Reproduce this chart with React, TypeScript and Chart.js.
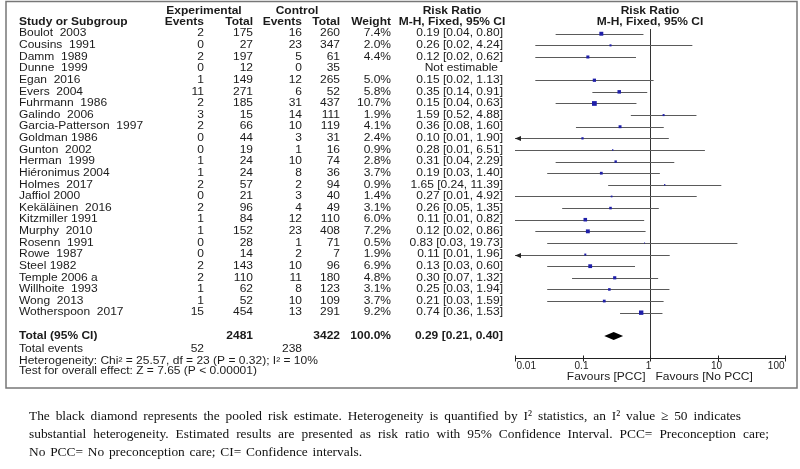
import React, { useEffect, useRef } from "react";
import { Chart, registerables } from "chart.js";
Chart.register(...registerables);

const studies = ["Boulot  2003", "Cousins  1991", "Damm  1989", "Dunne  1999", "Egan  2016", "Evers  2004", "Fuhrmann  1986", "Galindo  2006", "Garcia-Patterson  1997", "Goldman 1986", "Gunton  2002", "Herman  1999", "Hiéronimus 2004", "Holmes  2017", "Jaffiol 2000", "Kekäläinen  2016", "Kitzmiller 1991", "Murphy  2010", "Rosenn  1991", "Rowe  1987", "Steel 1982", "Temple 2006 a", "Willhoite  1993", "Wong  2013", "Wotherspoon  2017"];
const expEvents = [2, 0, 2, 0, 1, 11, 2, 3, 2, 0, 0, 1, 1, 2, 0, 2, 1, 1, 0, 0, 2, 2, 1, 1, 15];
const expTotal = [175, 27, 197, 12, 149, 271, 185, 15, 66, 44, 19, 24, 24, 57, 21, 96, 84, 152, 28, 14, 143, 110, 62, 52, 454];
const ctlEvents = [16, 23, 5, 0, 12, 6, 31, 14, 10, 3, 1, 10, 8, 2, 3, 4, 12, 23, 1, 2, 10, 11, 8, 10, 13];
const ctlTotal = [260, 347, 61, 35, 265, 52, 437, 111, 119, 31, 16, 74, 36, 94, 40, 49, 110, 408, 71, 7, 96, 180, 123, 109, 291];
const weights: (number | null)[] = [7.4, 2.0, 4.4, null, 5.0, 5.8, 10.7, 1.9, 4.1, 2.4, 0.9, 2.8, 3.7, 0.9, 1.4, 3.1, 6.0, 7.2, 0.5, 1.9, 6.9, 4.8, 3.1, 3.7, 9.2];
const riskRatio: (number | null)[] = [0.19, 0.26, 0.12, null, 0.15, 0.35, 0.15, 1.59, 0.36, 0.10, 0.28, 0.31, 0.19, 1.65, 0.27, 0.26, 0.11, 0.12, 0.83, 0.11, 0.13, 0.30, 0.25, 0.21, 0.74];
const ciLow: (number | null)[] = [0.04, 0.02, 0.02, null, 0.02, 0.14, 0.04, 0.52, 0.08, 0.01, 0.01, 0.04, 0.03, 0.24, 0.01, 0.05, 0.01, 0.02, 0.03, 0.01, 0.03, 0.07, 0.03, 0.03, 0.36];
const ciHigh: (number | null)[] = [0.80, 4.24, 0.62, null, 1.13, 0.91, 0.63, 4.88, 1.60, 1.90, 6.51, 2.29, 1.40, 11.39, 4.92, 1.35, 0.82, 0.86, 19.73, 1.96, 0.60, 1.32, 1.94, 1.59, 1.53];
const clippedLow = [false, false, false, false, false, false, false, false, false, true, false, false, false, false, false, false, false, false, false, true, false, false, false, false, false];

const pooled = { rr: 0.29, lo: 0.21, hi: 0.40 };
const totals = { expTotal: 2481, ctlTotal: 3422, expEvents: 52, ctlEvents: 238, weight: "100.0%" };
const heterogeneityText = "Heterogeneity: Chi² = 25.57, df = 23 (P = 0.32); I² = 10%";
const overallText = "Test for overall effect: Z = 7.65 (P < 0.00001)";
const axisTicks = [0.01, 0.1, 1, 10, 100];
const axisLabels = ["0.01", "0.1", "1", "10", "100"];
const favoursLeft = "Favours [PCC]";
const favoursRight = "Favours [No PCC]";
const footnote = [
  "The black diamond represents the pooled risk estimate.  Heterogeneity is quantified by I² statistics, an I² value ≥ 50 indicates",
  "substantial heterogeneity. Estimated results are presented as risk ratio with 95% Confidence Interval. PCC= Preconception care;",
  "No PCC= No preconception care; CI= Confidence intervals.",
];

const SANS = '"Liberation Sans", Arial, Helvetica, sans-serif';
const SERIF = '"Liberation Serif", "Times New Roman", serif';
const TEXT = "#1b1b1b";

function txt(ctx: CanvasRenderingContext2D, s: string, x: number, y: number, align: CanvasTextAlign, bold = false, size = 10, sx = 1.2) {
  ctx.save();
  ctx.translate(x, y);
  ctx.scale(sx, 1);
  ctx.font = `${bold ? "bold " : ""}${size}px ${SANS}`;
  ctx.textAlign = align;
  ctx.textBaseline = "middle";
  ctx.fillStyle = TEXT;
  ctx.fillText(s, 0, 0);
  ctx.restore();
}

function justified(ctx: CanvasRenderingContext2D, s: string, x0: number, x1: number, y: number) {
  ctx.save();
  ctx.font = `13.4px ${SERIF}`;
  ctx.textBaseline = "middle";
  ctx.textAlign = "left";
  ctx.fillStyle = "#111";
  const words = s.split(/\s+/);
  const widths = words.map((w) => ctx.measureText(w).width);
  const total = widths.reduce((a, b) => a + b, 0);
  const gap = words.length > 1 ? (x1 - x0 - total) / (words.length - 1) : 0;
  let x = x0;
  words.forEach((w, i) => {
    ctx.fillText(w, x, y);
    x += widths[i] + gap;
  });
  ctx.restore();
}

const forestPlugin = {
  id: "forest",
  beforeDatasetsDraw(chart: any) {
    const ctx: CanvasRenderingContext2D = chart.ctx;
    const xs = chart.scales.x;
    const ys = chart.scales.y;
    ctx.save();
    const x1 = Math.round(xs.getPixelForValue(1)) + 0.5;
    ctx.strokeStyle = "#333";
    ctx.lineWidth = 1;
    ctx.beginPath();
    ctx.moveTo(x1, 29);
    ctx.lineTo(x1, ys.getPixelForValue(27.9));
    ctx.stroke();
    ctx.strokeStyle = "#5a5a5a";
    riskRatio.forEach((r, i) => {
      if (r == null) return;
      const y = Math.round(ys.getPixelForValue(i)) + 0.5;
      const xa = xs.getPixelForValue(Math.max(ciLow[i] as number, 0.01));
      const xb = xs.getPixelForValue(Math.min(ciHigh[i] as number, 100));
      ctx.beginPath();
      ctx.moveTo(xa, y);
      ctx.lineTo(xb, y);
      ctx.stroke();
      if (clippedLow[i]) {
        ctx.fillStyle = "#222";
        ctx.beginPath();
        ctx.moveTo(xa, y);
        ctx.lineTo(xa + 6, y - 2.5);
        ctx.lineTo(xa + 6, y + 2.5);
        ctx.closePath();
        ctx.fill();
      }
    });
    const yd = ys.getPixelForValue(26);
    ctx.fillStyle = "#000";
    ctx.beginPath();
    ctx.moveTo(xs.getPixelForValue(pooled.lo), yd);
    ctx.lineTo(xs.getPixelForValue(pooled.rr), yd - 4);
    ctx.lineTo(xs.getPixelForValue(pooled.hi), yd);
    ctx.lineTo(xs.getPixelForValue(pooled.rr), yd + 4);
    ctx.closePath();
    ctx.fill();
    const ya = Math.round(ys.getPixelForValue(27.9)) + 0.5;
    ctx.strokeStyle = "#222";
    ctx.beginPath();
    ctx.moveTo(xs.getPixelForValue(axisTicks[0]), ya);
    ctx.lineTo(xs.getPixelForValue(axisTicks[axisTicks.length - 1]), ya);
    ctx.stroke();
    axisTicks.forEach((t, i) => {
      const xt = Math.round(xs.getPixelForValue(t)) + 0.5;
      ctx.beginPath();
      ctx.moveTo(xt, ya - 3);
      ctx.lineTo(xt, ya + 3);
      ctx.stroke();
      const align: CanvasTextAlign = i === 0 ? "left" : i === axisTicks.length - 1 ? "right" : "center";
      const xl = i === 0 ? xt + 1 : i === axisTicks.length - 1 ? xt - 1 : xt - 2;
      txt(ctx, axisLabels[i], xl, ya + 8, align, false, 10, 1.0);
    });
    txt(ctx, favoursLeft, x1 - 5, ya + 19, "right");
    txt(ctx, favoursRight, x1 + 5, ya + 19, "left");
    ctx.restore();
  },
  afterDraw(chart: any) {
    const ctx: CanvasRenderingContext2D = chart.ctx;
    const ys = chart.scales.y;
    ctx.save();
    ctx.strokeStyle = "#777";
    ctx.lineWidth = 1.5;
    ctx.strokeRect(6, 1.5, 791, 386.5);
    txt(ctx, "Experimental", 204, 11, "center", true);
    txt(ctx, "Control", 297, 11, "center", true);
    txt(ctx, "Risk Ratio", 452, 11, "center", true);
    txt(ctx, "Risk Ratio", 650, 11, "center", true);
    const hy = 22.5;
    txt(ctx, "Study or Subgroup", 19, hy, "left", true);
    txt(ctx, "Events", 204, hy, "right", true);
    txt(ctx, "Total", 253, hy, "right", true);
    txt(ctx, "Events", 302, hy, "right", true);
    txt(ctx, "Total", 340, hy, "right", true);
    txt(ctx, "Weight", 391, hy, "right", true);
    txt(ctx, "M-H, Fixed, 95% CI", 452, hy, "center", true);
    txt(ctx, "M-H, Fixed, 95% CI", 650, hy, "center", true);
    studies.forEach((s, i) => {
      const y = ys.getPixelForValue(i);
      txt(ctx, s, 19, y, "left");
      txt(ctx, String(expEvents[i]), 204, y, "right");
      txt(ctx, String(expTotal[i]), 253, y, "right");
      txt(ctx, String(ctlEvents[i]), 302, y, "right");
      txt(ctx, String(ctlTotal[i]), 340, y, "right");
      const w = weights[i];
      if (w != null) txt(ctx, w.toFixed(1) + "%", 391, y, "right");
      const r = riskRatio[i];
      if (r == null) txt(ctx, "Not estimable", 498, y, "right");
      else txt(ctx, `${r.toFixed(2)} [${(ciLow[i] as number).toFixed(2)}, ${(ciHigh[i] as number).toFixed(2)}]`, 503, y, "right");
    });
    const yt = ys.getPixelForValue(26);
    txt(ctx, "Total (95% CI)", 19, yt, "left", true);
    txt(ctx, String(totals.expTotal), 253, yt, "right", true);
    txt(ctx, String(totals.ctlTotal), 340, yt, "right", true);
    txt(ctx, totals.weight, 391, yt, "right", true);
    txt(ctx, `${pooled.rr.toFixed(2)} [${pooled.lo.toFixed(2)}, ${pooled.hi.toFixed(2)}]`, 503, yt, "right", true);
    const ye = yt + 13.5;
    txt(ctx, "Total events", 19, ye, "left");
    txt(ctx, String(totals.expEvents), 204, ye, "right");
    txt(ctx, String(totals.ctlEvents), 302, ye, "right");
    txt(ctx, heterogeneityText, 19, ye + 11.5, "left");
    txt(ctx, overallText, 19, ye + 21.5, "left");
    justified(ctx, footnote[0], 29, 741, 416);
    justified(ctx, footnote[1], 29, 769, 434);
    justified(ctx, footnote[2], 29, 362, 452);
    ctx.restore();
  },
};

export default function App() {
  const ref = useRef<HTMLCanvasElement>(null);
  useEffect(() => {
    if (!ref.current) return;
    const points: { x: number; y: number }[] = [];
    const radii: number[] = [];
    riskRatio.forEach((r, i) => {
      if (r == null) return;
      points.push({ x: r, y: i });
      radii.push((Math.sqrt(weights[i] as number) * 1.45) / Math.SQRT2);
    });
    const chart = new Chart(ref.current, {
      type: "scatter",
      data: {
        datasets: [
          {
            data: points,
            pointStyle: "rect",
            pointRadius: radii,
            pointHoverRadius: radii,
            backgroundColor: "#1f1fa8",
            borderWidth: 0,
          },
        ],
      },
      options: {
        animation: false,
        responsive: false,
        events: [],
        layout: { padding: { left: 515, right: 15, top: 27, bottom: 111 } },
        plugins: { legend: { display: false }, tooltip: { enabled: false } },
        scales: {
          x: { type: "logarithmic", min: 0.01, max: 100, display: false },
          y: { type: "linear", min: -0.58, max: 27.9, reverse: true, display: false },
        },
      },
      plugins: [forestPlugin],
    } as any);
    return () => chart.destroy();
  }, []);
  return (
    <div style={{ position: "absolute", left: 0, top: 0, width: 800, height: 469, background: "#fff" }}>
      <canvas ref={ref} width={800} height={469} style={{ display: "block" }} />
    </div>
  );
}
